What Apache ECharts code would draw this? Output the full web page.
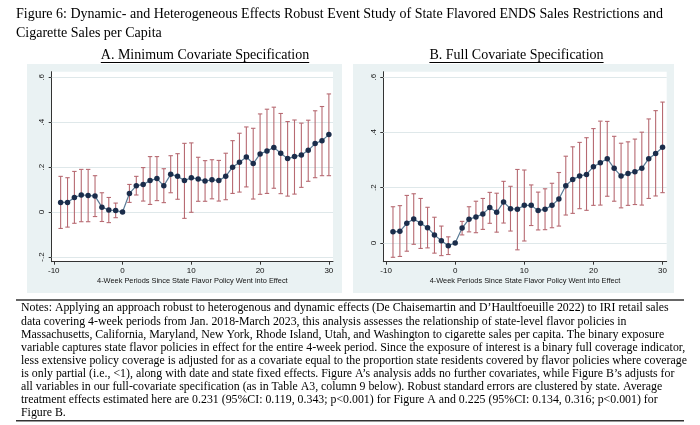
<!DOCTYPE html>
<html><head><meta charset="utf-8">
<script src="https://cdn.jsdelivr.net/npm/echarts@6/dist/echarts.min.js"></script>
<style>html,body{margin:0;padding:0;background:#fff;}#c{width:700px;height:425px;}</style>
</head><body><div id="c"></div>
<script>
// ---- data ----
const periods = [-9,-8,-7,-6,-5,-4,-3,-2,-1,0,1,2,3,4,5,6,7,8,9,10,11,12,13,14,15,16,17,18,19,20,21,22,23,24,25,26,27,28,29,30];
const estA = [0.043,0.043,0.065,0.076,0.074,0.071,0.022,0.009,0.007,0,0.083,0.117,0.123,0.140,0.149,0.117,0.168,0.159,0.140,0.153,0.147,0.138,0.144,0.140,0.159,0.200,0.222,0.245,0.216,0.259,0.272,0.288,0.262,0.238,0.247,0.254,0.275,0.305,0.318,0.345];
const hiA  = [0.159,0.153,0.181,0.190,0.190,0.162,0.086,0.065,0.040,null,0.123,0.159,0.198,0.247,0.247,0.193,0.251,0.260,0.306,0.308,0.244,0.229,0.233,0.230,0.262,0.318,0.351,0.379,0.373,0.437,0.458,0.467,0.439,0.403,0.410,0.396,0.409,0.451,0.470,0.526];
const loA  = [-0.073,-0.067,-0.050,-0.043,-0.043,-0.020,-0.042,-0.047,-0.025,null,0.043,0.076,0.049,0.034,0.051,0.042,0.086,0.057,-0.028,-0.001,0.048,0.048,0.059,0.049,0.055,0.083,0.089,0.112,0.058,0.079,0.083,0.106,0.082,0.071,0.080,0.110,0.137,0.153,0.162,0.162];
const estB = [0.040,0.042,0.071,0.087,0.071,0.055,0.029,0.008,-0.010,0,0.054,0.086,0.094,0.105,0.128,0.111,0.148,0.124,0.122,0.136,0.136,0.117,0.122,0.136,0.159,0.207,0.230,0.242,0.248,0.276,0.290,0.305,0.270,0.242,0.251,0.258,0.270,0.305,0.324,0.346];
const hiB  = [0.131,0.135,0.172,0.178,0.161,0.129,0.093,0.061,0.022,null,0.078,0.131,0.151,0.161,0.183,0.180,0.223,0.205,0.266,0.264,0.210,0.184,0.196,0.216,0.255,0.314,0.348,0.364,0.381,0.414,0.441,0.440,0.386,0.361,0.366,0.376,0.401,0.449,0.479,0.510];
const loB  = [-0.052,-0.049,-0.030,-0.005,-0.020,-0.018,-0.037,-0.046,-0.042,null,0.029,0.040,0.037,0.049,0.071,0.039,0.072,0.043,-0.025,0.007,0.063,0.047,0.048,0.055,0.061,0.101,0.107,0.124,0.118,0.136,0.137,0.169,0.151,0.127,0.136,0.139,0.137,0.161,0.170,0.182];
const xTicks = [-10,0,10,20,30];
const yTicks = [-0.2,0,0.2,0.4,0.6];
const titleLines = ["Figure 6: Dynamic- and Heterogeneous Effects Robust Event Study of State Flavored ENDS Sales Restrictions and","Cigarette Sales per Capita"];
const panelTitles = ["A. Minimum Covariate Specification","B. Full Covariate Specification"];
const xName = "4-Week Periods Since State Flavor Policy Went into Effect";
const notes = [
"Notes: Applying an approach robust to heterogenous and dynamic effects (De Chaisemartin and D\u2019Haultfoeuille 2022) to IRI retail sales",
"data covering 4-week periods from Jan. 2018-March 2023, this analysis assesses the relationship of state-level flavor policies in",
"Massachusetts, California, Maryland, New York, Rhode Island, Utah, and Washington to cigarette sales per capita. The binary exposure",
"variable captures state flavor policies in effect for the entire 4-week period. Since the exposure of interest is a binary full coverage indicator,",
"less extensive policy coverage is adjusted for as a covariate equal to the proportion state residents covered by flavor policies where coverage",
"is only partial (i.e., <1), along with date and state fixed effects. Figure A\u2019s analysis adds no further covariates, while Figure B\u2019s adjusts for",
"all variables in our full-covariate specification (as in Table A3, column 9 below). Robust standard errors are clustered by state. Average",
"treatment effects estimated here are 0.231 (95%CI: 0.119, 0.343; p<0.001) for Figure A and 0.225 (95%CI: 0.134, 0.316; p<0.001) for",
"Figure B."
];

// ---- styles ----
const BG = '#eaf2f3', CI = '#b76a72', PT = '#1b2d4b', LN = '#5a7b96', AX = '#333';
const serif = '"Liberation Serif","Times New Roman",serif';
const sans = '"Liberation Sans",Arial,sans-serif';
const yFmt = v => { if (Math.abs(v) < 1e-9) return '0'; const s = Math.abs(v).toFixed(1).replace(/^0/, ''); return (v < 0 ? '-' : '') + s; };

const chart = echarts.init(document.getElementById('c'), null, {renderer: 'canvas'});
const measure = (t, f) => { const c = document.createElement('canvas').getContext('2d'); c.font = f; return c.measureText(t).width; };

const grids = [
  {left: 51.7, top: 71.7, right: 367, bottom: 163.3},
  {left: 383.3, top: 71.7, right: 33.3, bottom: 163.3}
];
const yRanges = [[-0.221, 0.625], [-0.068, 0.62]];
const xRanges = [[-10.3, 30.6], [-10.4, 30.6]];

function xAxis(i) {
  return {
    type: 'value', gridIndex: i, min: xRanges[i][0], max: xRanges[i][1],
    axisLine: {show: true, onZero: false, lineStyle: {color: AX, width: 1}},
    axisTick: {show: true, length: 3, customValues: xTicks, lineStyle: {color: AX}},
    axisLabel: {customValues: xTicks, fontFamily: sans, fontSize: 8, color: '#111', margin: 5},
    splitLine: {show: false},
    name: xName, nameLocation: 'middle', nameGap: 16,
    nameTextStyle: {fontFamily: sans, fontSize: 7.4, color: '#111'}
  };
}
function yAxis(i) {
  const tv = yTicks.filter(v => v >= yRanges[i][0]);
  return {
    type: 'value', gridIndex: i, min: yRanges[i][0], max: yRanges[i][1],
    axisLine: {show: true, onZero: false, lineStyle: {color: AX, width: 1}},
    axisTick: {show: true, length: 3, customValues: tv, lineStyle: {color: AX}},
    axisLabel: {customValues: tv, formatter: yFmt, rotate: 90, fontFamily: sans, fontSize: 8, color: '#111', margin: 6},
    splitLine: {show: false}
  };
}
function gridLines(i) {
  return yTicks.filter(v => v >= yRanges[i][0]).map(v => ({yAxis: v}));
}
function ciSeries(i, hi, lo) {
  const data = periods.map((p, k) => hi[k] == null ? null : [p, lo[k], hi[k]]).filter(d => d);
  return {
    type: 'custom', xAxisIndex: i, yAxisIndex: i, data: data, z: 2,
    renderItem: (params, api) => {
      const a = api.coord([api.value(0), api.value(1)]);
      const b = api.coord([api.value(0), api.value(2)]);
      const w = 2.2, st = {stroke: CI, lineWidth: 1.1};
      return {type: 'group', children: [
        {type: 'line', shape: {x1: a[0], y1: a[1], x2: b[0], y2: b[1]}, style: st},
        {type: 'line', shape: {x1: a[0]-w, y1: a[1], x2: a[0]+w, y2: a[1]}, style: st},
        {type: 'line', shape: {x1: b[0]-w, y1: b[1], x2: b[0]+w, y2: b[1]}, style: st}
      ]};
    }
  };
}
function estSeries(i, est) {
  return {
    type: 'line', xAxisIndex: i, yAxisIndex: i, z: 3,
    data: periods.map((p, k) => [p, est[k]]),
    symbol: 'circle', symbolSize: 5.5, showSymbol: true,
    itemStyle: {color: PT, borderWidth: 0},
    lineStyle: {color: LN, width: 1.2},
    animation: false,
    markLine: {silent: true, symbol: 'none', label: {show: false},
      lineStyle: {color: '#dfe8ea', width: 1, type: 'solid'}, data: gridLines(i), z: 1}
  };
}

const graphics = [];
// panel backgrounds
graphics.push({type: 'rect', shape: {x: 27, y: 64, width: 315, height: 229}, style: {fill: BG}, z: -10});
graphics.push({type: 'rect', shape: {x: 353, y: 64, width: 321, height: 229}, style: {fill: BG}, z: -10});
// plot regions (white)
graphics.push({type: 'rect', shape: {x: 51.7, y: 71.7, width: 281.3, height: 190}, style: {fill: '#fff'}, z: -9});
graphics.push({type: 'rect', shape: {x: 383.3, y: 71.7, width: 283.4, height: 190}, style: {fill: '#fff'}, z: -9});
// title
titleLines.forEach((t, k) => graphics.push({type: 'text', x: 16, y: 14 + k * 19.5, style: {text: t, font: '14px ' + serif, fill: '#000', textVerticalAlign: 'middle'}}));
// panel titles with underline
const ptFont = '14px ' + serif;
[[205, panelTitles[0]], [516.5, panelTitles[1]]].forEach(([cx, t]) => {
  const w = measure(t, ptFont);
  graphics.push({type: 'text', x: cx - w / 2, y: 55, style: {text: t, font: ptFont, fill: '#000', textVerticalAlign: 'middle'}});
  graphics.push({type: 'line', shape: {x1: cx - w / 2, y1: 62.5, x2: cx + w / 2, y2: 62.5}, style: {stroke: '#000', lineWidth: 1}});
});
// notes box lines
graphics.push({type: 'line', shape: {x1: 16, y1: 300, x2: 684, y2: 300}, style: {stroke: '#333', lineWidth: 1.5}});
graphics.push({type: 'line', shape: {x1: 16, y1: 420.8, x2: 684, y2: 420.8}, style: {stroke: '#333', lineWidth: 1.5}});
notes.forEach((t, k) => graphics.push({type: 'text', x: 21, y: 308.3 + k * 13.1, style: {text: t, font: '11.85px ' + serif, fill: '#000', textVerticalAlign: 'middle'}}));

chart.setOption({
  animation: false,
  backgroundColor: '#fff',
  grid: grids,
  xAxis: [xAxis(0), xAxis(1)],
  yAxis: [yAxis(0), yAxis(1)],
  series: [ciSeries(0, hiA, loA), estSeries(0, estA), ciSeries(1, hiB, loB), estSeries(1, estB)],
  graphic: graphics
});
</script></body></html>
